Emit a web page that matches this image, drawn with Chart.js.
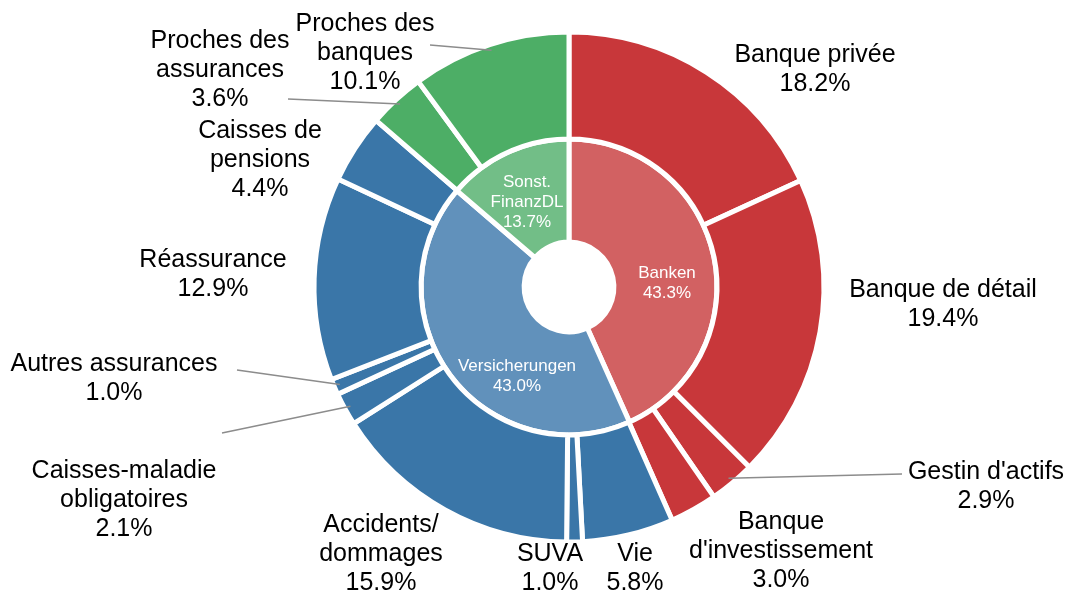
<!DOCTYPE html>
<html>
<head>
<meta charset="utf-8">
<script src="https://cdn.jsdelivr.net/npm/chart.js"></script>
<style>
	html, body { margin: 0; padding: 0; background: #fff; }
	#wrap { width: 1067px; height: 594px; }
</style>
</head>
<body>
<div id="wrap"><canvas id="chart" width="1067" height="594"></canvas></div>
<script>
// outer ring: sub-sectors
var outerLabels = [
	["Banque privée"], ["Banque de détail"], ["Gestin d'actifs"], ["Banque", "d'investissement"],
	["Vie"], ["SUVA"], ["Accidents/", "dommages"], ["Caisses-maladie", "obligatoires"],
	["Autres assurances"], ["Réassurance"], ["Caisses de", "pensions"],
	["Proches des", "assurances"], ["Proches des", "banques"]
];
var outerValues = [18.2, 19.4, 2.9, 3.0, 5.8, 1.0, 15.9, 2.1, 1.0, 12.9, 4.4, 3.6, 10.1];
var outerGroup = [0, 0, 0, 0, 1, 1, 1, 1, 1, 1, 1, 2, 2];

// inner ring: main sectors
var innerLabels = [["Banken"], ["Versicherungen"], ["Sonst.", "FinanzDL"]];
var innerValues = [43.3, 43.0, 13.7];

var outerColors = ["#c8373a", "#3a76a8", "#4dae66"];
var innerColors = ["#d26162", "#6191bb", "#72be87"];

// label block centres, relative to the chart centre
var outerLabelPos = [
	[246, -217], [374, 18], [417, 200], [212, 264], [66, 282], [-19, 282], [-188, 267],
	[-445, 213], [-455, 92], [-356, -12], [-309, -127], [-349, -217], [-204, -234]
];
var innerLabelPos = [[98, -4], [-52, 89], [-42, -85]];
// leader lines: index of slice -> start point of the line (label side)
var leaders = { 2: [333, 187], 7: [-347, 146], 8: [-332, 83], 11: [-281, -188], 12: [-139, -242] };

var labelPlugin = {
	id: "ringLabels",
	afterDatasetsDraw(chart) {
		var ctx = chart.ctx;
		var outerArcs = chart.getDatasetMeta(0).data;
		var cx = outerArcs[0].x, cy = outerArcs[0].y;
		ctx.save();
		ctx.textAlign = "center";
		ctx.textBaseline = "middle";

		// leader lines
		ctx.strokeStyle = "#8c8c8c";
		ctx.lineWidth = 1.5;
		Object.keys(leaders).forEach((k) => {
			var arc = outerArcs[k];
			var mid = (arc.startAngle + arc.endAngle) / 2;
			var r = arc.outerRadius - 6;
			ctx.beginPath();
			ctx.moveTo(cx + leaders[k][0], cy + leaders[k][1]);
			ctx.lineTo(cx + Math.cos(mid) * r, cy + Math.sin(mid) * r);
			ctx.stroke();
		});

		// outer labels
		ctx.fillStyle = "#000";
		ctx.font = "25px 'Liberation Sans', Arial, sans-serif";
		outerLabels.forEach((lines, i) => {
			var all = lines.concat([outerValues[i].toFixed(1) + "%"]);
			var lh = 29;
			var y0 = cy + outerLabelPos[i][1] - (all.length - 1) * lh / 2;
			all.forEach((t, j) => ctx.fillText(t, cx + outerLabelPos[i][0], y0 + j * lh));
		});

		// inner labels
		ctx.fillStyle = "#fff";
		ctx.font = "17px 'Liberation Sans', Arial, sans-serif";
		innerLabels.forEach((lines, i) => {
			var all = lines.concat([innerValues[i].toFixed(1) + "%"]);
			var lh = 20;
			var y0 = cy + innerLabelPos[i][1] - (all.length - 1) * lh / 2;
			all.forEach((t, j) => ctx.fillText(t, cx + innerLabelPos[i][0], y0 + j * lh));
		});
		ctx.restore();
	}
};

new Chart(document.getElementById("chart"), {
	type: "doughnut",
	data: {
		labels: outerLabels.map((l) => l.join(" ")),
		datasets: [
			{
				data: outerValues,
				backgroundColor: outerGroup.map((g) => outerColors[g]),
				borderColor: "#fff",
				borderWidth: 5,
				weight: 107
			},
			{
				data: innerValues,
				backgroundColor: innerColors,
				borderColor: "#fff",
				borderWidth: 5,
				weight: 103
			}
		]
	},
	options: {
		responsive: false,
		animation: false,
		radius: 255,
		cutout: "17.6%",
		layout: { padding: { left: 71, right: 0, top: 0, bottom: 20 } },
		plugins: {
			legend: { display: false },
			tooltip: { enabled: false }
		},
		events: []
	},
	plugins: [labelPlugin]
});
</script>
</body>
</html>
